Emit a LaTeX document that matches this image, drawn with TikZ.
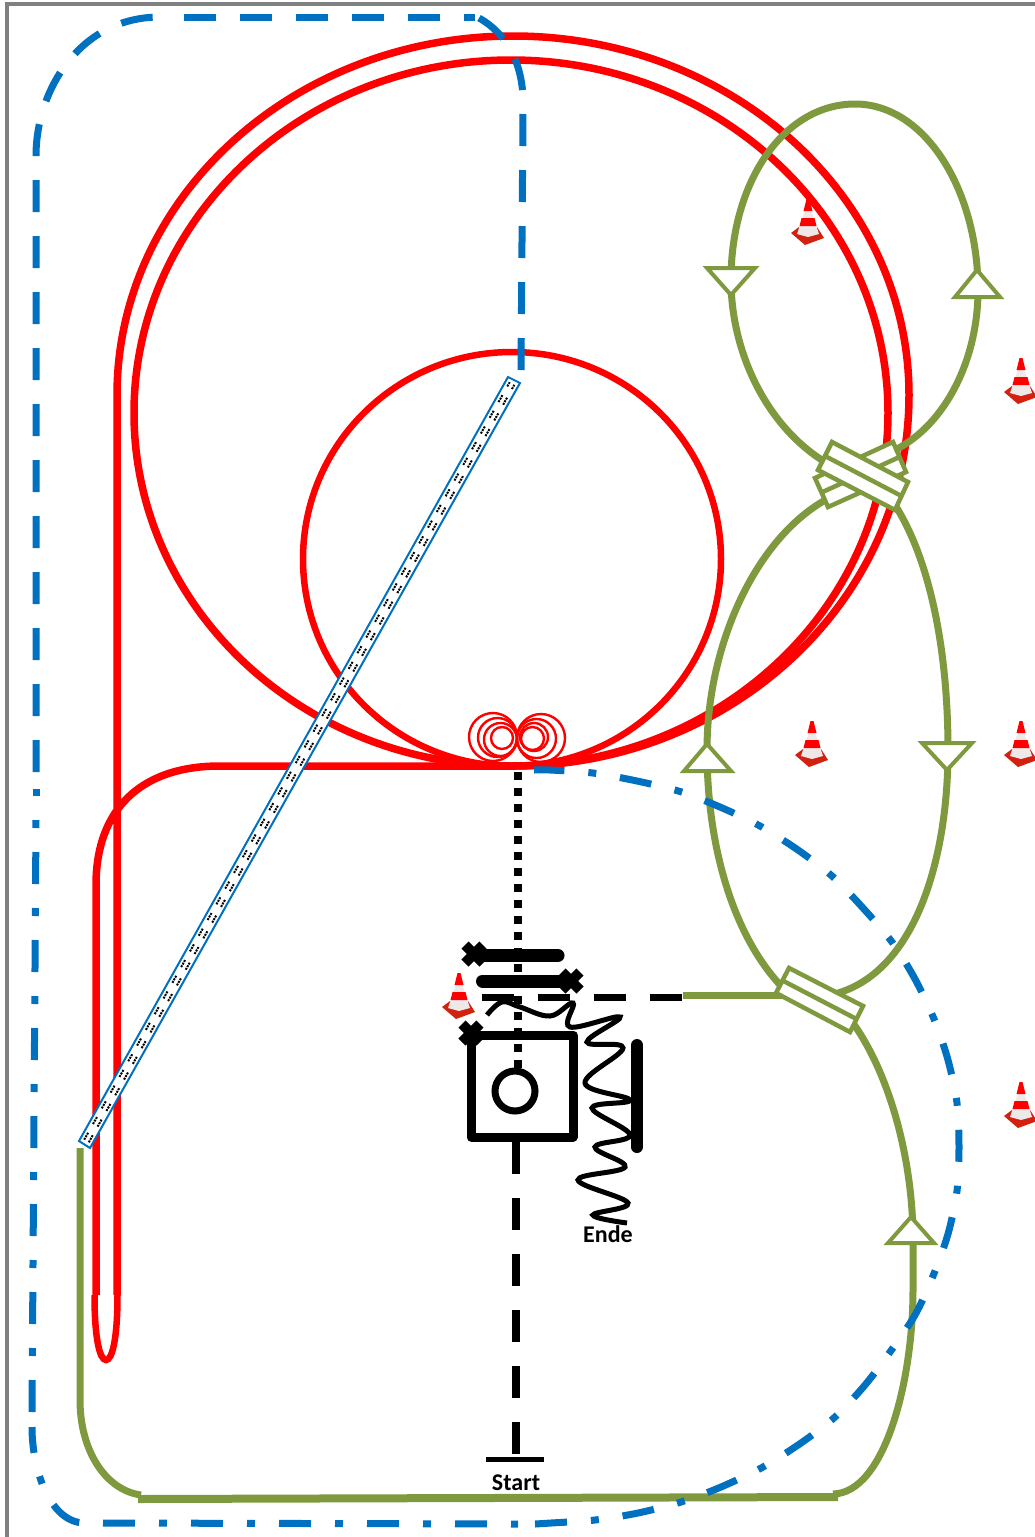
\documentclass[tikz,border=0pt]{standalone}
\usepackage{fontspec}
\setmainfont{Carlito}
\usetikzlibrary{calc}
\definecolor{rd}{HTML}{FF0000}
\definecolor{gn}{HTML}{7F9A3E}
\definecolor{bl}{HTML}{0070C0}
\definecolor{fr}{HTML}{808080}
\definecolor{conebase}{HTML}{D4200F}
\definecolor{conewhite}{HTML}{EDE9E9}
\tikzset{
 redline/.style={draw=rd,line width=7.5pt},
 spiral/.style={draw=rd,line width=2.4pt},
 greenline/.style={draw=gn,line width=7pt},
 arrowtri/.style={draw=gn,fill=white,line width=4pt,line join=miter},
 block/.style={draw=gn,fill=white,line width=4.5pt,line join=miter},
 blueA/.style={draw=bl,line width=7pt,dash pattern=on 32pt off 24pt},
 blueB/.style={draw=bl,line width=7pt,dash pattern=on 8pt off 24pt on 32pt off 24pt},
 blueC/.style={draw=bl,line width=7pt,dash pattern=on 32pt off 24pt on 8pt off 24pt},
 tapebox/.style={draw=bl,fill=white,line width=2pt},
 tapedots/.style={draw=black,line width=2pt,dash pattern=on 2pt off 1pt on 2pt off 1pt on 2pt off 10pt},
 blk/.style={draw=black,line width=8pt},
 barline/.style={draw=black,line width=13pt,line cap=round},
 cross/.style={draw=black,line width=10pt},
 labeltext/.style={font=\bfseries\fontsize{24}{24}\selectfont,inner sep=0pt,text=black},
 cone/.pic={
  \fill[conebase] (-17,11)--(-9,5)--(9,5)--(16,16)--(-3,23)--cycle;
  \fill[conewhite] (-11,12)--(-3,-12)--(3,-12)--(11,12)--(0,15)--cycle;
  \fill[rd] (-1.5,-23)--(1.5,-23)--(4.5,-11)--(-4.5,-11)--cycle;
  \fill[rd] (-6.5,-4)--(6.5,-4)--(8.5,4)--(-8.5,4)--cycle;
 }
}
\begin{document}
\begin{tikzpicture}[x=1pt,y=-1pt]
\useasboundingbox (0,0) rectangle (1035,1537);
\fill[white] (0,0) rectangle (1035,1537);
\draw[fr,line width=4pt] (1035,4) -- (7,4) -- (7,1537);
% cones
\pic at (808,222) {cone};
\pic at (1021,381) {cone};
\pic at (812,744) {cone};
\pic at (1021,744) {cone};
\pic at (1021,1105) {cone};
\pic at (459,996) {cone};
% red track
\draw[redline] (117,1295) -- (117,395) arc[start angle=180,end angle=360,x radius=396,y radius=359] arc[start angle=0,end angle=90,x radius=396,y radius=371] -- (220,766) .. controls (140,766) and (96,810) .. (96,885) -- (96,1295);
\draw[redline,line width=6.5pt] (94.5,1295) .. controls (94.5,1340) and (100,1360) .. (106,1360) .. controls (112,1360) and (117.5,1340) .. (117.5,1295);
\draw[redline] (511,766) arc[start angle=90,end angle=450,x radius=377,y radius=353];
\draw[redline,line width=6.5pt] (512,559) ellipse[x radius=209,y radius=207];
\foreach \cx/\rx/\ty in {493/24/713,497.5/19.5/718,500.5/16.5/723,502/11/727,541/24/714,536.5/19.5/719,534/14/723,532.5/11.5/727}
  \draw[spiral] (\cx,\ty+\rx) ellipse[x radius=\rx,y radius=\rx];
% black track
\draw[blk,dash pattern=on 8pt off 8pt] (518,772) -- (518,1068);
\draw[draw=black,line width=7pt,dash pattern=on 32pt off 24pt] (482,997) -- (682,997);
\draw[blk,dash pattern=on 32pt off 24pt] (516,1142) -- (516,1455);
\draw[draw=black,line width=5pt] (486,1459.5) -- (544,1459.5);
\draw[barline] (478,955.5) -- (558,955.5);
\draw[barline] (482.5,981) -- (567,981);
\foreach \cx/\cy in {474/954,571/981,471/1033}{
  \draw[cross] (\cx-9,\cy-9) -- (\cx+9,\cy+9);
  \draw[cross] (\cx-9,\cy+9) -- (\cx+9,\cy-9);
}
\draw[draw=black,line width=9pt,line join=round] (471,1035) rectangle (573,1137);
\draw[draw=black,line width=7pt] (515,1091) circle[radius=20];
\draw[draw=black,line width=12pt,line cap=round] (637,1045) -- (637,1147);
\draw[draw=black,line width=5pt] plot[smooth,tension=0.65] coordinates {(487,1015) (502,1002) (520,1007) (550,1016) (573,1003) (570,1027) (620,1017) (587,1042) (623,1048) (585,1083) (630,1100) (592,1108) (630,1135) (595,1147) (625,1167) (578,1180) (628,1203) (593,1215) (627,1223)};
% green track
\draw[greenline] (825,462) .. controls (765,425) and (731,350) .. (731,280) .. controls (731,180) and (785,104) .. (855,104) .. controls (925,104) and (978,190) .. (978,290) .. controls (978,360) and (945,425) .. (895,450);
\draw[greenline] (835,495) .. controls (760,530) and (707,640) .. (707,750) .. controls (707,850) and (735,940) .. (785,990);
\draw[greenline] (895,505) .. controls (930,560) and (948,650) .. (948,750) .. controls (948,860) and (915,970) .. (838,993);
\draw[greenline] (683,995) -- (782,995);
\draw[greenline] (853,1023) .. controls (890,1075) and (913,1160) .. (913,1240) -- (913,1290) .. controls (913,1380) and (885,1493) .. (833,1494);
\draw[greenline] (141,1495) .. controls (105,1490) and (80,1450) .. (80,1400) -- (80,1148);
\draw[draw=gn,line width=8pt] (138,1499) -- (838,1497);
\draw[arrowtri] (707,268) -- (755,268) -- (731,295) -- cycle;
\draw[arrowtri] (955,297) -- (1000,297) -- (977,270) -- cycle;
\draw[arrowtri] (684,771) -- (731,771) -- (707,744) -- cycle;
\draw[arrowtri] (922,743) -- (972,743) -- (947,770) -- cycle;
\draw[arrowtri] (888,1243) -- (934,1243) -- (911,1217) -- cycle;
\draw[block] (815,478) -- (893,442) -- (906,472) -- (828,507) -- cycle;
\draw[draw=gn,line width=4.5pt] ($(815,478)!.5!(828,507)$) -- ($(893,442)!.5!(906,472)$);
\draw[block] (832,442) -- (908,482) -- (895,510) -- (818,470) -- cycle;
\draw[draw=gn,line width=4.5pt] ($(832,442)!.5!(818,470)$) -- ($(908,482)!.5!(895,510)$);
\draw[block] (789,968) -- (863,1006) -- (850,1032) -- (776,993) -- cycle;
\draw[draw=gn,line width=4.5pt] ($(789,968)!.5!(776,993)$) -- ($(863,1006)!.5!(850,1032)$);
% blue dashed upper part
\draw[blueA] (521,370) -- (523,113) .. controls (525,75) and (514,38) .. (479,18);
\draw[blueA] (184,17) -- (475,17);
\draw[blueA] (36,772) -- (36,156) .. controls (36,90) and (80,17) .. (160,17);
\draw[draw=bl,line width=7pt] (36,796) -- (36,789);
% blue dash-dot lower part
\draw[blueB] (36,820) -- (32,1413);
\draw[draw=bl,line width=7pt,dash pattern=on 26pt off 24pt on 8pt off 24pt on 32pt off 40pt] (32,1427) .. controls (32,1470) and (50,1523) .. (85,1523);
\draw[blueC] (103,1523) -- (518,1524);
\draw[blueC] plot[smooth,tension=0.5] coordinates {(535,1524) (551,1523) (595,1520) (638,1513) (681,1502) (721,1487) (763,1467) (801,1443) (835,1417) (865,1385) (890,1352) (915,1315) (933,1276) (948,1234) (957,1191) (959,1147) (957,1103) (948,1060) (934,1019) (915,979) (892,942) (863,908) (832,876) (798,850) (760,826) (720,807) (680,791.5) (637,781) (593,773) (550,770) (534,770)};
% tape
\draw[tapebox] (79,1141) -- (508,377) -- (520,383) -- (90,1148) -- cycle;
\draw[tapedots] (88.8,1142.3) -- (514.3,384.8);
\draw[tapedots] (84.2,1139.7) -- (509.7,382.2);
% labels
\node[labeltext] (start) at (516,1483) {Start};
\node[labeltext] (ende) at (608,1234) {Ende};
\end{tikzpicture}
\end{document}
